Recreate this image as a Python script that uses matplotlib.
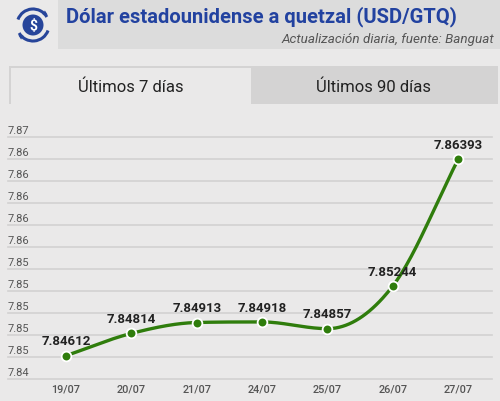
import numpy as np
import matplotlib
matplotlib.use("Agg")
import matplotlib.pyplot as plt
from matplotlib.patches import Rectangle, Circle, FancyArrowPatch, Arc

plt.rcParams['font.family'] = ['Roboto', 'DejaVu Sans']

dates = ["19/07", "20/07", "21/07", "24/07", "25/07", "26/07", "27/07"]
values = [7.84612, 7.84814, 7.84913, 7.84918, 7.84857, 7.85244, 7.86393]
y_ticks = [7.844, 7.846, 7.848, 7.850, 7.852, 7.854, 7.856, 7.858, 7.860, 7.862, 7.864, 7.866]
title = "Dólar estadounidense a quetzal (USD/GTQ)"
subtitle = "Actualización diaria, fuente: Banguat"
tabs = ["Últimos 7 días", "Últimos 90 días"]

W, H = 500, 402
BG = "#eae9e9"
fig = plt.figure(figsize=(W / 100, H / 100), dpi=100, facecolor=BG)

deco = fig.add_axes([0, 0, 1, 1], zorder=0)
deco.set_xlim(0, W)
deco.set_ylim(H, 0)
deco.axis("off")

# header band
deco.add_patch(Rectangle((58, 0), W - 58, 50, color="#dcdcdc", lw=0))
# icon
blue = "#27459a"
deco.add_patch(Circle((33, 26), 10.5, color=blue, lw=0))
deco.text(33, 26.5, "$", color="white", fontsize=10, fontweight="bold", ha="center", va="center")
deco.add_patch(Arc((33, 26), 32, 32, theta1=200, theta2=330, color=blue, lw=2.2))
deco.add_patch(Arc((33, 26), 32, 32, theta1=20, theta2=150, color=blue, lw=2.2))
deco.add_patch(FancyArrowPatch((44, 13.5), (50, 17), arrowstyle="-|>", mutation_scale=8, color=blue, lw=0))
deco.add_patch(FancyArrowPatch((22, 38.5), (16, 35), arrowstyle="-|>", mutation_scale=8, color=blue, lw=0))

deco.text(66, 17, title, color="#2242a0", fontsize=14.5, fontweight="bold", ha="left", va="center")
deco.text(494, 40, subtitle, color="#555555", fontsize=9.7, style="italic", ha="right", va="center")

# tabs
deco.add_patch(Rectangle((9, 67), 489, 38, color="#d4d3d3", lw=0))
deco.add_patch(Rectangle((10.5, 69), 240.5, 36, color=BG, lw=0))
deco.text(131, 87, tabs[0], color="#222222", fontsize=12, ha="center", va="center")
deco.text(374, 87, tabs[1], color="#222222", fontsize=12, ha="center", va="center")

# chart axes: spans x 8..492 px, y 137.7..380 px
left_px, right_px = 8, 492
top_px, bot_px = 137.7, 380
ax = fig.add_axes([left_px / W, 1 - bot_px / H, (right_px - left_px) / W, (bot_px - top_px) / H], zorder=1)
ax.set_facecolor("none")
x0_px, step_px = 66, 65.35
ax.set_xlim((left_px - x0_px) / step_px, (right_px - x0_px) / step_px)
ax.set_ylim(y_ticks[0], y_ticks[-1])
for s in ax.spines.values():
    s.set_visible(False)
ax.set_xticks([])
ax.set_yticks([])

for t in y_ticks:
    ax.axhline(t, color="#d2d2d2", lw=1.2, zorder=0, clip_on=False)
    ax.annotate(f"{t:.2f}", (0.0, t), xycoords=ax.get_yaxis_transform(), xytext=(0, 1.5),
                textcoords="offset points", ha="left", va="bottom", fontsize=8, color="#555555")

xs = np.arange(len(values))
for i, d in enumerate(dates):
    ax.text(i, -10 / (bot_px - top_px), d, transform=ax.get_xaxis_transform(), ha="center", va="center",
            fontsize=7.8, color="#555555", fontweight="medium")

# monotone cubic (Fritsch-Carlson)
y = np.array(values)
n = len(y)
d = np.diff(y)
m = np.zeros(n)
m[0], m[-1] = d[0], d[-1]
for k in range(1, n - 1):
    m[k] = 0 if d[k - 1] * d[k] <= 0 else (d[k - 1] + d[k]) / 2
for k in range(n - 1):
    if d[k] == 0:
        m[k] = m[k + 1] = 0
    else:
        a, b = m[k] / d[k], m[k + 1] / d[k]
        s = a * a + b * b
        if s > 9:
            tau = 3 / np.sqrt(s)
            m[k] = tau * a * d[k]
            m[k + 1] = tau * b * d[k]
cx, cy = [], []
for k in range(n - 1):
    t = np.linspace(0, 1, 40)
    h00 = 2 * t**3 - 3 * t**2 + 1
    h10 = t**3 - 2 * t**2 + t
    h01 = -2 * t**3 + 3 * t**2
    h11 = t**3 - t**2
    cx.extend(k + t)
    cy.extend(h00 * y[k] + h10 * m[k] + h01 * y[k + 1] + h11 * m[k + 1])

green = "#2f7d0c"
ax.plot(cx, cy, color=green, lw=2.4, solid_capstyle="round", zorder=3, clip_on=False)
ax.plot(xs, y, "o", color=green, markersize=7, markeredgecolor="white", markeredgewidth=1.3, zorder=4, clip_on=False)
for i, v in enumerate(values):
    ax.annotate(f"{v:.5f}", (i, v), xytext=(0, 6), textcoords="offset points", ha="center", va="bottom",
                fontsize=9.5, fontweight="bold", color="#222222", zorder=5)

fig.savefig("out.png", dpi=100, facecolor=BG)
